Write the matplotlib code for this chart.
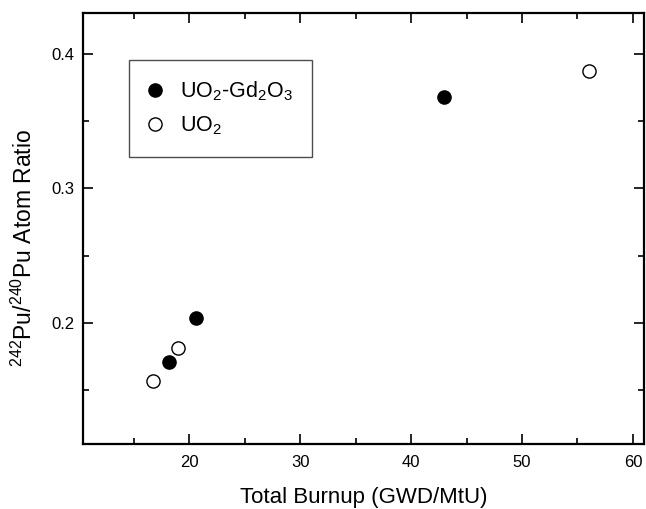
import matplotlib
matplotlib.use('Agg')
import matplotlib.pyplot as plt
from matplotlib.ticker import MultipleLocator

plt.rcParams['font.family'] = ['Liberation Sans', 'DejaVu Sans']
plt.rcParams['mathtext.fontset'] = 'custom'
plt.rcParams['mathtext.rm'] = 'Liberation Sans'
plt.rcParams['mathtext.it'] = 'Liberation Sans'
plt.rcParams['mathtext.default'] = 'regular'

# data
gd_burnup = [18.2, 20.65, 43.0]
gd_ratio = [0.171, 0.2035, 0.368]
uo2_burnup = [16.7, 19.0, 56.0]
uo2_ratio = [0.157, 0.1815, 0.387]

fig = plt.figure(figsize=(6.46, 5.09), dpi=100)
ax = fig.add_axes([0.128, 0.1277, 0.869, 0.846])

ax.plot(gd_burnup, gd_ratio, 'o', color='black', markersize=9.5,
        label='UO$_2$-Gd$_2$O$_3$')
ax.plot(uo2_burnup, uo2_ratio, 'o', markerfacecolor='white',
        markeredgecolor='black', markeredgewidth=1.0, markersize=9.5,
        label='UO$_2$')

ax.set_xlim(10.4, 61)
ax.set_ylim(0.11, 0.43)
ax.xaxis.set_major_locator(MultipleLocator(10))
ax.xaxis.set_minor_locator(MultipleLocator(5))
ax.yaxis.set_major_locator(MultipleLocator(0.1))
ax.yaxis.set_minor_locator(MultipleLocator(0.05))
ax.tick_params(which='both', direction='in', top=True, right=True,
               labelsize=12, width=1.2)
ax.tick_params(axis='x', pad=8)
ax.tick_params(axis='y', pad=6)
ax.tick_params(which='major', length=7)
ax.tick_params(which='minor', length=4)
for s in ax.spines.values():
    s.set_linewidth(1.6)

ax.set_xlabel('Total Burnup (GWD/MtU)', fontsize=16, labelpad=12)
ax.set_ylabel('$^{242}$Pu/$^{240}$Pu Atom Ratio', fontsize=16.5)
ax.yaxis.set_label_coords(-0.081, 0.455)

leg = ax.legend(loc='upper left', bbox_to_anchor=(0.083, 0.892),
                borderaxespad=0, fontsize=15.5, fancybox=False,
                handletextpad=0.9, handlelength=0.55, borderpad=0.9,
                labelspacing=0.55, framealpha=1)
leg.get_frame().set_edgecolor('0.3')
leg.get_frame().set_linewidth(1.0)

fig.savefig('out.png', dpi=100)
